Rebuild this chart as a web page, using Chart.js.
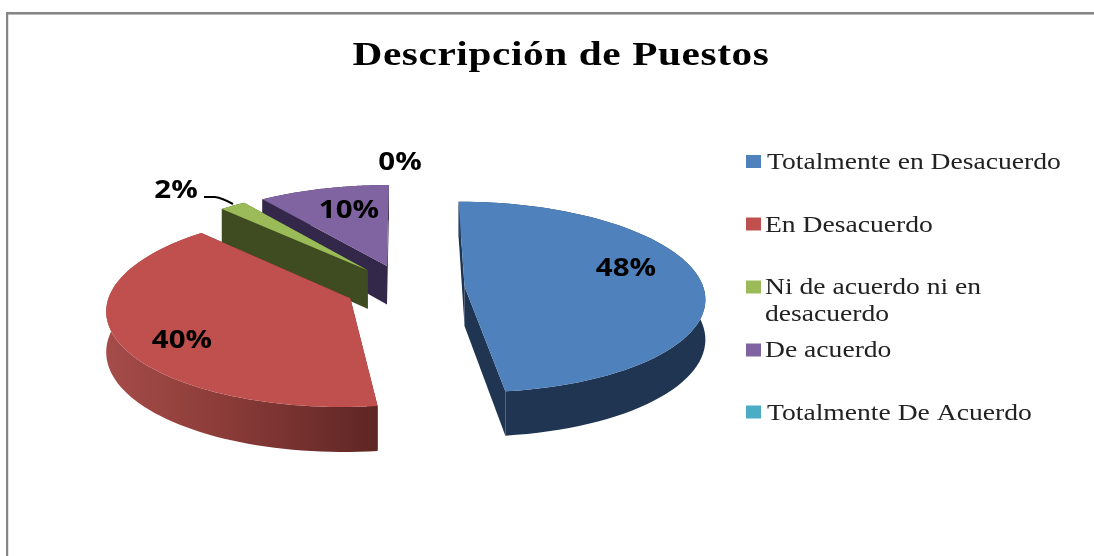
<!DOCTYPE html>
<html><head><meta charset="utf-8">
<style>html,body{margin:0;padding:0;background:#fff}canvas{display:block}</style>
<script src="https://cdn.jsdelivr.net/npm/chart.js@4"></script>
</head><body><canvas id="c" width="1094" height="556"></canvas>
<script>
const categories = ['Totalmente en Desacuerdo','En Desacuerdo','Ni de acuerdo ni en desacuerdo','De acuerdo','Totalmente De Acuerdo'];
const legendLines = [['Totalmente en Desacuerdo'],['En Desacuerdo'],['Ni de acuerdo ni en','desacuerdo'],['De acuerdo'],['Totalmente De Acuerdo']];
const values = [48,40,2,10,0];
const colors = ['#4F81BD','#C0504D','#9BBB59','#8064A2','#4BACC6'];
const sideColors = ['#1F3552','#5E2624','#3F4C22','#33284A','#1E4D5A'];
const wallStops = [[['#2C4568',0],['#1F3552',.18],['#1F3552',1]],[['#5E2624',0],['#8A3B38',.55],['#A54C49',1]],[['#3F4C22',0],['#3F4C22',1]],[['#33284A',0],['#33284A',1]],[['#1E4D5A',0],['#1E4D5A',1]]];

// Projection of the exploded, tilted pie
const CX=405, CY=288, RX=239, KY=94.5, PERSP=0.11, DEPTH=39.5, EXPLODE=0.25;
const project=(x,y,z)=>{const d=1-PERSP*y;return [CX+RX*x/d, CY+(KY*y+z*DEPTH)/d];};

const labelSpots=[[626,276],[182,348],[176,198],[349,218],[400,170]];
const legendRows=[[161.5,169,767],[224,232,765],[287,294,765],[350,357,765],[412,420,767]];

const stretched=(c,text,x,y,sx)=>{c.save();c.translate(x,y);c.scale(sx,1);c.fillText(text,0,0);c.restore();};

const pie3d={id:'pie3d',
 beforeDraw(chart){
  const c=chart.ctx;c.save();c.fillStyle='#fff';c.fillRect(0,0,1094,556);
  c.fillStyle='#868686';c.fillRect(6,12,1088,2);c.fillRect(6,12,2,544);
  c.fillStyle='#B8B8B8';c.fillRect(8,14,1086,1);c.fillStyle='#E4E4E4';c.fillRect(8,15,1,541);
  c.restore();
  c.save();c.letterSpacing='0.5px';c.translate(561,0);c.scale(1.25,1);c.translate(-561,0);
 },
 beforeDatasetsDraw(chart){chart.ctx.restore();},
 beforeDatasetDraw(chart,args){
  const c=chart.ctx, arcs=args.meta.data;
  [3,2,1,0,4].forEach(i=>{
   const el=arcs[i], a0=el.startAngle, a1=el.endAngle;
   if(a1-a0<1e-6) return;
   const mid=(a0+a1)/2, ox=Math.cos(mid)*EXPLODE, oy=Math.sin(mid)*EXPLODE;
   const rim=[];const N=72;
   for(let k=0;k<=N;k++){const a=a0+(a1-a0)*k/N;rim.push([ox+Math.cos(a),oy+Math.sin(a)]);}
   const poly=(pts,fill)=>{c.beginPath();pts.forEach((p,j)=>j?c.lineTo(p[0],p[1]):c.moveTo(p[0],p[1]));c.closePath();c.fillStyle=fill;c.fill();};
   const apex=[ox,oy];
   [rim[0],rim[N]].forEach(r=>poly([project(apex[0],apex[1],0),project(r[0],r[1],0),project(r[0],r[1],1),project(apex[0],apex[1],1)],sideColors[i]));
   const top=rim.map(r=>project(r[0],r[1],0)), bot=rim.map(r=>project(r[0],r[1],1)).reverse();
   const xs=top.map(p=>p[0]), xa=top[0][0];
   const far=xs.reduce((m,x)=>Math.abs(x-xa)>Math.abs(m-xa)?x:m,xa);
   const g=c.createLinearGradient(xa,0,far,0);
   wallStops[i].forEach(s=>g.addColorStop(s[1],s[0]));
   poly(top.concat(bot),g);
   poly([project(apex[0],apex[1],0)].concat(top),colors[i]);
  });
  return false;
 },
 afterDatasetsDraw(chart){
  const c=chart.ctx;c.save();
  c.strokeStyle='#000';c.lineWidth=2;c.beginPath();c.moveTo(204,197);c.lineTo(215,197);c.quadraticCurveTo(222,198,233,204);c.stroke();
  c.fillStyle='#000';c.font='bold 25px "Open Sans"';c.textAlign='center';c.textBaseline='alphabetic';
  values.forEach((v,i)=>stretched(c,v+'%',labelSpots[i][0],labelSpots[i][1],1.18));
  c.textAlign='left';c.font='23px "Liberation Serif"';
  legendLines.forEach((lines,i)=>{
   const r=legendRows[i];
   c.fillStyle=colors[i];c.fillRect(746,r[0]-6.5,15,13);
   c.fillStyle='#222';
   lines.forEach((t,j)=>stretched(c,t,r[2],r[1]+j*27,1.2));
  });
  c.restore();
 }
};

new Chart(document.getElementById('c'),{
 type:'pie',
 data:{labels:categories,datasets:[{data:values,backgroundColor:colors,borderWidth:0}]},
 options:{responsive:false,animation:false,
  layout:{padding:{left:28,top:0}},
  plugins:{legend:{display:false},tooltip:{enabled:false},
   title:{display:true,text:'Descripción de Puestos',color:'#000',font:{family:'"Liberation Serif"',size:33,weight:'bold'},padding:{top:37,bottom:10}}}
 },
 plugins:[pie3d]
});
</script></body></html>
